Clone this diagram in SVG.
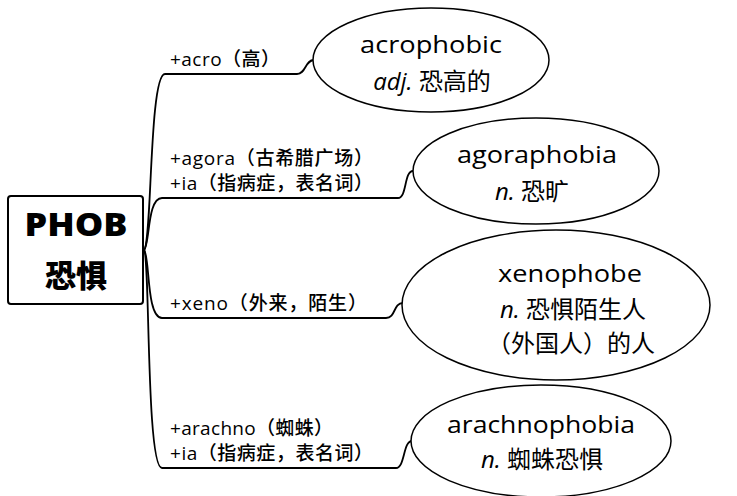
<svg xmlns="http://www.w3.org/2000/svg" width="737" height="496" viewBox="0 0 737 496">
<style>
text{font-family:"Open Sans","Noto Sans CJK SC",sans-serif;fill:#000}
.lbl{font-size:19px;font-weight:500}
.nd{font-size:24px;text-anchor:middle}
.root{font-size:31px;font-weight:800;text-anchor:middle}
.ell{fill:#fff;stroke:#000;stroke-width:1.5}
.con{fill:none;stroke:#000;stroke-width:1.8}
</style>
<rect width="737" height="496" fill="#fff"/>
<g id="connectors">
<path class="con" d="M144,250 C152,245 149,74 165,74 L297,74 C306,74 305,60 314,60"/>
<path class="con" d="M144,250 C150,245 147,198 162,198 L398,198 C407,198 404,171 413,171"/>
<path class="con" d="M144,250 C150,255 146,318 162,318 L386,318 C396,318 393,303 403,303"/>
<path class="con" d="M144,250 C150,255 146,468 162,468 L396,468 C405,468 403,441 412,441"/>
<text class="lbl" x="170" y="66" textLength="110" lengthAdjust="spacing">+acro（高）</text>
<text class="lbl" x="170" y="165" textLength="203" lengthAdjust="spacing">+agora（古希腊广场）</text>
<text class="lbl" x="170" y="190" textLength="203" lengthAdjust="spacing">+ia（指病症，表名词）</text>
<text class="lbl" x="170" y="310" textLength="197" lengthAdjust="spacing">+xeno（外来，陌生）</text>
<text class="lbl" x="170" y="435" textLength="163" lengthAdjust="spacing">+arachno（蜘蛛）</text>
<text class="lbl" x="170" y="460" textLength="203" lengthAdjust="spacing">+ia（指病症，表名词）</text>
</g>
<g id="root">
<rect x="8" y="196" width="135" height="108" rx="3" fill="#fff" stroke="#000" stroke-width="2"/>
<text class="root" x="76" y="236" textLength="103" lengthAdjust="spacingAndGlyphs">PHOB</text>
<text class="root" x="76" y="287" font-size="33">恐惧</text>
</g>
<g id="acrophobic">
<ellipse class="ell" cx="431" cy="60" rx="118" ry="52"/>
<text class="nd" x="431" y="53" textLength="142" lengthAdjust="spacingAndGlyphs">acrophobic</text>
<text class="nd" x="432" y="90"><tspan font-style="italic">adj.</tspan> 恐高的</text>
</g>
<g id="agoraphobia">
<ellipse class="ell" cx="536" cy="171" rx="123" ry="53"/>
<text class="nd" x="537" y="163" textLength="160" lengthAdjust="spacingAndGlyphs">agoraphobia</text>
<text class="nd" x="532" y="200"><tspan font-style="italic">n.</tspan> 恐旷</text>
</g>
<g id="xenophobe">
<ellipse class="ell" cx="556" cy="305" rx="154" ry="75"/>
<text class="nd" x="570" y="282" textLength="144" lengthAdjust="spacingAndGlyphs">xenophobe</text>
<text class="nd" x="573" y="318"><tspan font-style="italic">n.</tspan> 恐惧陌生人</text>
<text class="nd" x="571" y="352">（外国人）的人</text>
</g>
<g id="arachnophobia">
<ellipse class="ell" cx="541" cy="441" rx="130" ry="56"/>
<text class="nd" x="541" y="433" textLength="188" lengthAdjust="spacingAndGlyphs">arachnophobia</text>
<text class="nd" x="542" y="468"><tspan font-style="italic">n.</tspan> 蜘蛛恐惧</text>
</g>
</svg>
